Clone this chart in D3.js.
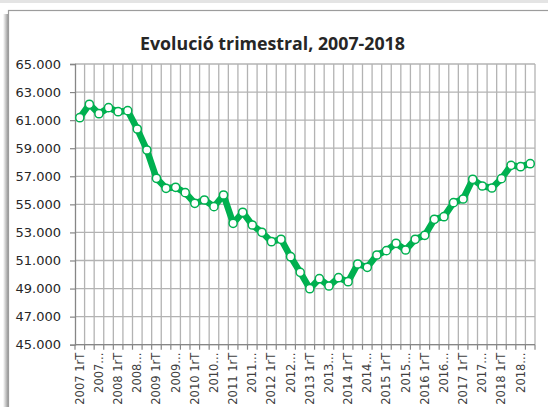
<!DOCTYPE html>
<html><head><meta charset="utf-8">
<script src="https://cdn.jsdelivr.net/npm/d3@7"></script>
<style>body{margin:0;background:#fff;}svg{display:block;}</style>
</head><body>
<script>
const years = d3.range(2007, 2019);
const quarters = ["1rT","2nT","3rT","4tT"];
const categories = years.flatMap(y => quarters.map(q => y + " " + q));
const values = [
  61174, 62129, 61459, 61887, 61601, 61673, 60369, 58873,
  56856, 56143, 56215, 55831, 55075, 55310, 54833, 55666,
  53650, 54434, 53529, 53009, 52339, 52510, 51270, 50158,
  48990, 49703, 49183, 49774, 49489, 50750, 50515, 51391,
  51698, 52225, 51748, 52510, 52795, 53935, 54120, 55118,
  55381, 56785, 56308, 56165, 56828, 57782, 57682, 57896
];
const tickLabels = [
  "2007 1rT","2007...","2008 1rT","2008...","2009 1rT","2009...",
  "2010 1rT","2010...","2011 1rT","2011...","2012 1rT","2012...",
  "2013 1rT","2013...","2014 1rT","2014...","2015 1rT","2015...",
  "2016 1rT","2016...","2017 1rT","2017...","2018 1rT","2018..."
];
const yTicks = d3.range(45000, 65001, 2000);
const title = "Evolució trimestral, 2007-2018";

const W = 548, H = 407;
const svg = d3.select("body").append("svg").attr("width", W).attr("height", H);

// background & frame
svg.append("rect").attr("x",0).attr("y",0).attr("width",W).attr("height",3).attr("fill","#e4e4e4");
const defs = svg.append("defs");
const g1 = defs.append("linearGradient").attr("id","sh").attr("x1","0").attr("x2","1");
g1.append("stop").attr("offset","0").attr("stop-color","#ffffff");
g1.append("stop").attr("offset","1").attr("stop-color","#9a9a9a");
svg.append("rect").attr("x",3).attr("y",14).attr("width",5).attr("height",H).attr("fill","url(#sh)");
svg.append("rect").attr("x",8.5).attr("y",10.5).attr("width",600).attr("height",500)
  .attr("fill","#fff").attr("stroke","#9c9c9c").attr("stroke-width",1.2);

const pLeft = 75, pRight = 535, pTop = 64, pBottom = 344.7;
const x = d3.scaleBand().domain(categories).range([pLeft, pRight]).padding(0);
const y = d3.scaleLinear().domain([45000, 65000]).range([pBottom, pTop]);

// horizontal gridlines
svg.append("g").selectAll("line").data(yTicks).join("line")
  .attr("x1", pLeft).attr("x2", pRight)
  .attr("y1", d => y(d)).attr("y2", d => y(d))
  .attr("stroke","#b3b3b3").attr("stroke-width",1.3);

// vertical gridlines at category boundaries
const bounds = categories.map(c => x(c)).concat([pRight]);
svg.append("g").selectAll("line").data(bounds.slice(1)).join("line")
  .attr("x1", d => d).attr("x2", d => d)
  .attr("y1", pTop).attr("y2", pBottom)
  .attr("stroke","#b3b3b3").attr("stroke-width",1.3);

// y axis
const yAxis = svg.append("g").attr("transform",`translate(${pLeft},0)`)
  .call(d3.axisLeft(y).tickValues(yTicks).tickSize(5).tickPadding(9)
    .tickFormat(d => d3.format(",")(d).replace(/,/g,".")));
yAxis.select(".domain").attr("stroke","#868686").attr("stroke-width",1.3);
yAxis.selectAll(".tick line").attr("stroke","#868686").attr("stroke-width",1.2);
yAxis.selectAll("text").attr("font-family","DejaVu Sans").attr("font-size",13).attr("fill","#262626");

// x axis
const xa = svg.append("g").attr("transform",`translate(0,${pBottom})`);
xa.append("line").attr("x1",pLeft).attr("x2",pRight).attr("stroke","#868686").attr("stroke-width",1.3);
xa.selectAll("line.t").data(bounds).join("line").attr("class","t")
  .attr("x1", d => d).attr("x2", d => d).attr("y1",0).attr("y2",5)
  .attr("stroke","#868686").attr("stroke-width",1.2);
const labeled = categories.filter((c,i) => i % 2 === 0);
xa.selectAll("text").data(labeled).join("text")
  .attr("transform", (c) => `translate(${x(c) + x.bandwidth()/2 + 4},8) rotate(-90)`)
  .attr("text-anchor","end")
  .attr("font-family","DejaVu Sans").attr("font-size",11.5).attr("fill","#404040")
  .text((c,i) => tickLabels[i]);

// line
const pts = categories.map((c,i) => ({c, v: values[i]}));
svg.append("path").datum(pts)
  .attr("fill","none").attr("stroke","#00b050").attr("stroke-width",6.5)
  .attr("stroke-linejoin","round")
  .attr("d", d3.line().x(d => x(d.c) + x.bandwidth()/2).y(d => y(d.v)));
svg.append("g").selectAll("circle").data(pts).join("circle")
  .attr("cx", d => x(d.c) + x.bandwidth()/2).attr("cy", d => y(d.v))
  .attr("r",4.1).attr("fill","#fff").attr("stroke","#00b050").attr("stroke-width",1.5);

// title
const t = svg.append("text").attr("x",272.5).attr("y",50).attr("text-anchor","middle")
  .attr("font-family","Open Sans").attr("font-weight","bold").attr("font-size",18)
  .attr("fill","#262626").text(title);
const tw = t.node().getComputedTextLength();
t.attr("font-size", 18 * 265 / tw);
</script>
</body></html>
